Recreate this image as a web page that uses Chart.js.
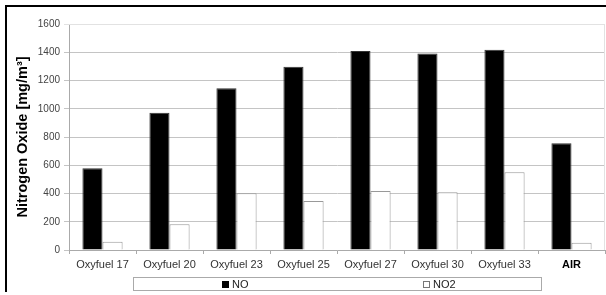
<!DOCTYPE html>
<html>
<head>
<meta charset="utf-8">
<script src="https://cdn.jsdelivr.net/npm/chart.js@4.4.0/dist/chart.umd.min.js"></script>
<style>
  html, body { margin: 0; padding: 0; background: #fff; }
  #wrap { position: relative; width: 606px; height: 295px; overflow: hidden; }
  #chart { position: absolute; left: 0; top: 0; }
  .frame-top { position: absolute; left: 5px; top: 5px; width: 601px; height: 2px; background: #000; }
  .frame-left { position: absolute; left: 5px; top: 5px; width: 2px; height: 287px; background: #000; }
  #legend {
    position: absolute; left: 133px; top: 277px; width: 407px; height: 12px;
    border: 1px solid #aaa; font: 11px "Liberation Sans", Arial, sans-serif; color: #222;
  }
  #legend span { position: absolute; top: -1px; line-height: 14px; }
  #legend i { display: inline-block; width: 7px; height: 7px; margin-right: 3px; box-sizing: border-box; vertical-align: 0px; }
</style>
</head>
<body>
<div id="wrap">
  <canvas id="chart" width="606" height="295"></canvas>
  <div class="frame-top"></div>
  <div class="frame-left"></div>
  <div id="legend">
    <span style="left:88px"><i style="background:#000"></i>NO</span>
    <span style="left:289px"><i style="background:#fff;border:1px solid #777"></i>NO2</span>
  </div>
</div>
<script>
const categories = ["Oxyfuel 17", "Oxyfuel 20", "Oxyfuel 23", "Oxyfuel 25", "Oxyfuel 27", "Oxyfuel 30", "Oxyfuel 33", "AIR"];
const noValues = [578, 972, 1145, 1298, 1409, 1392, 1418, 755];
const no2Values = [59, 182, 401, 347, 418, 408, 550, 52];
const yTicks = [0, 200, 400, 600, 800, 1000, 1200, 1400, 1600];

const plotFrame = {
  id: "plotFrame",
  afterDraw(chart) {
    const a = chart.chartArea;
    const c = chart.ctx;
    c.save();
    c.strokeStyle = "#e2e2e2";
    c.lineWidth = 1;
    c.beginPath();
    c.moveTo(a.left, a.top + 0.5);
    c.lineTo(a.right - 0.5, a.top + 0.5);
    c.lineTo(a.right - 0.5, a.bottom);
    c.stroke();
    c.restore();
  }
};

const ctx = document.getElementById("chart").getContext("2d");
new Chart(ctx, {
  type: "bar",
  data: {
    labels: categories,
    datasets: [
      {
        label: "NO",
        data: noValues,
        backgroundColor: "#000",
        borderColor: "#333",
        borderWidth: 1
      },
      {
        label: "NO2",
        data: no2Values,
        backgroundColor: "#fff",
        borderColor: "#999",
        borderWidth: 1
      }
    ]
  },
  options: {
    responsive: false,
    animation: false,
    devicePixelRatio: 1,
    layout: { padding: { left: 0, right: 1, top: 24, bottom: 0 } },
    datasets: { bar: { categoryPercentage: 0.6, barPercentage: 1 } },
    scales: {
      x: {
        afterFit: s => { s.height = 45; },
        grid: { drawOnChartArea: false, tickLength: 4, color: "#aaa", offset: true },
        border: { color: "#aaa" },
        ticks: {
          padding: 4,
          maxRotation: 0,
          autoSkip: false,
          color: c => c.index === 7 ? "#000" : "#333",
          font: c => ({
            family: "'Liberation Sans', Arial, sans-serif",
            size: 11,
            weight: c.index === 7 ? "bold" : "normal"
          })
        }
      },
      y: {
        min: 0,
        max: 1600,
        afterFit: s => { s.width = 69; },
        afterBuildTicks: s => { s.ticks = yTicks.map(v => ({ value: v })); },
        grid: {
          tickLength: 5,
          color: c => c.tick && c.tick.value === 1600 ? "#e2e2e2" : "#c4c4c4"
        },
        border: { color: "#aaa" },
        ticks: {
          padding: 4,
          color: "#444",
          callback: v => String(v),
          font: { family: "'Liberation Sans', Arial, sans-serif", size: 10 }
        },
        title: {
          display: true,
          text: "Nitrogen Oxide [mg/m³]",
          color: "#000",
          padding: { top: 14, bottom: 0 },
          font: { family: "'Liberation Sans', Arial, sans-serif", size: 14.5, weight: "bold" }
        }
      }
    },
    plugins: {
      legend: { display: false },
      tooltip: { enabled: false }
    }
  },
  plugins: [plotFrame]
});
</script>
</body>
</html>
